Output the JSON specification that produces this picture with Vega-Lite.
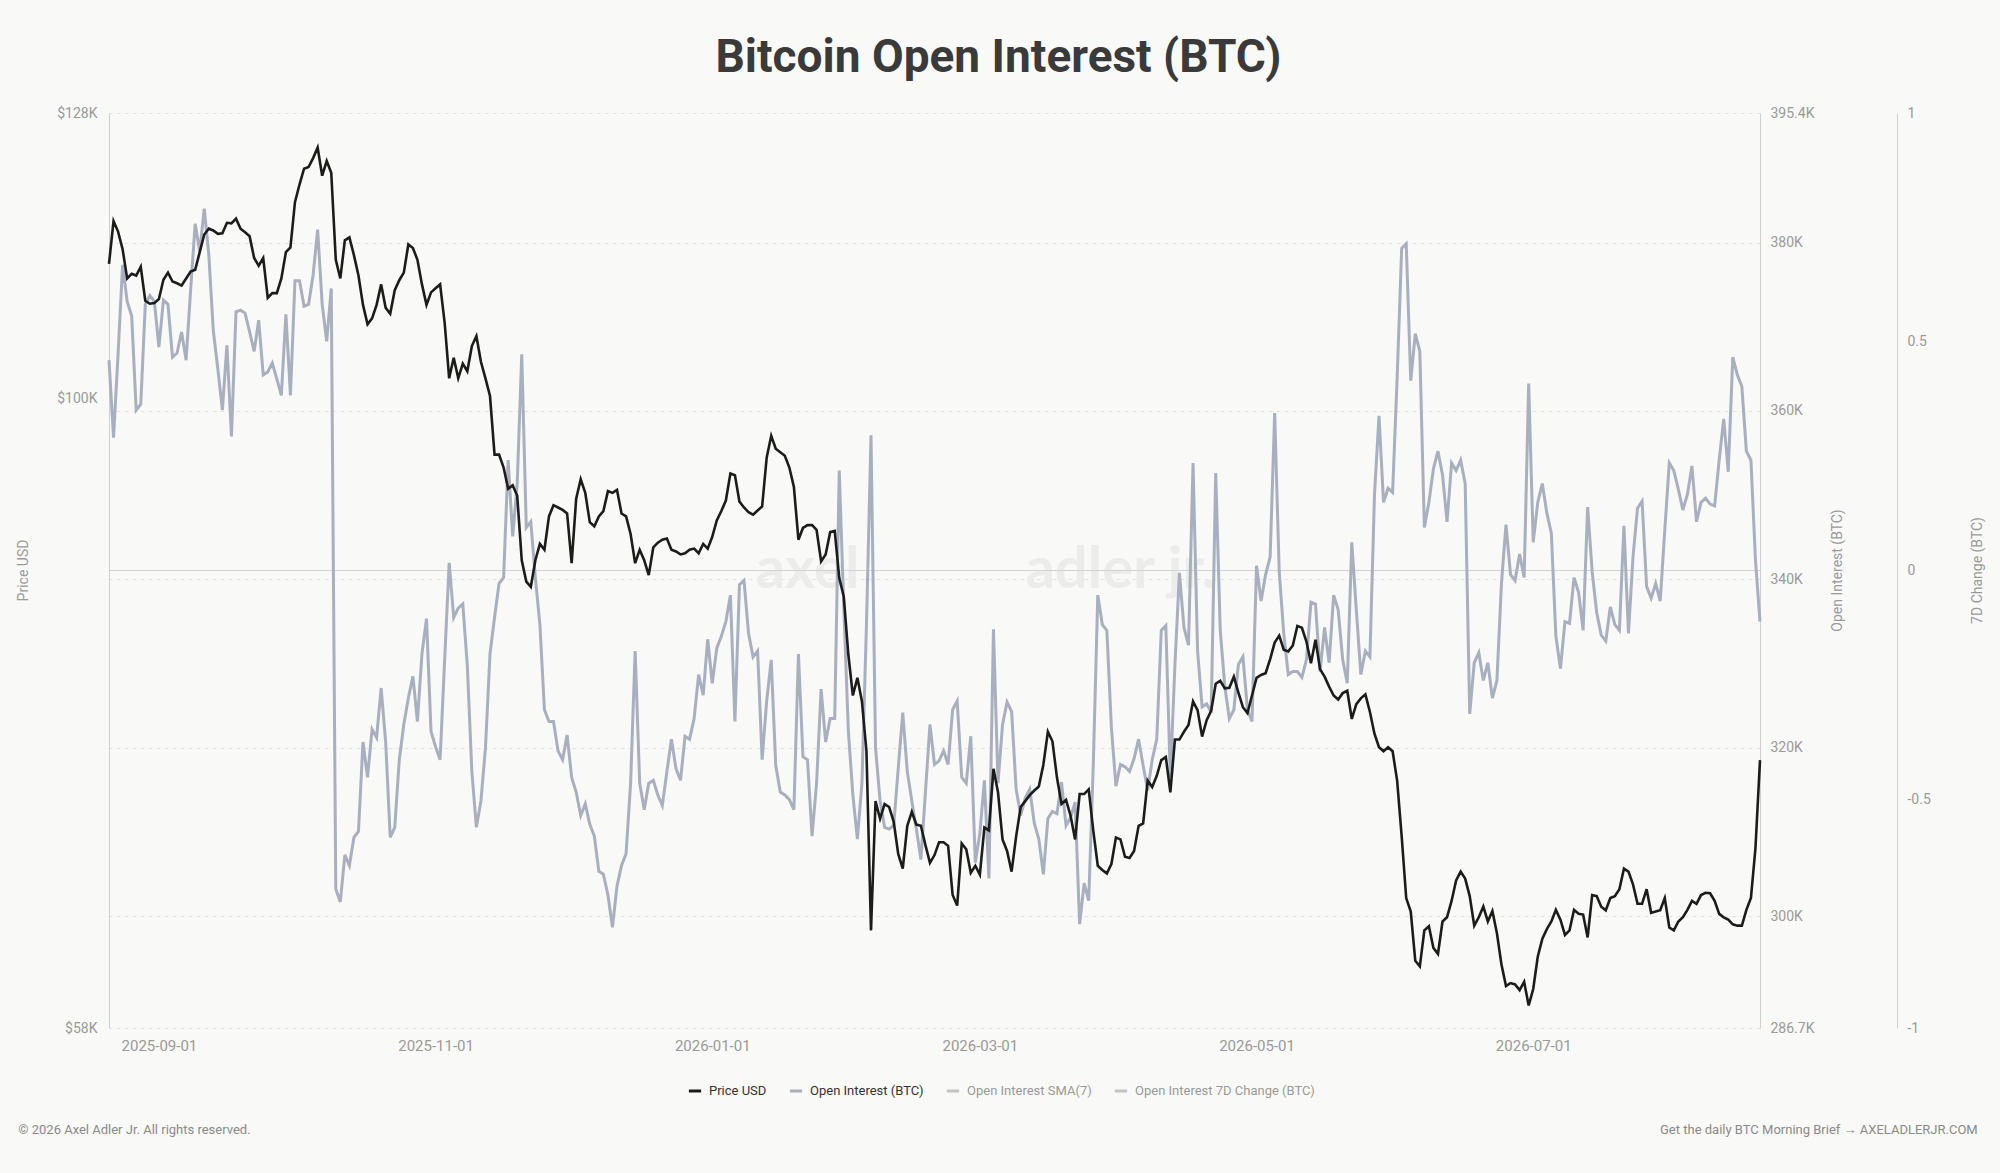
{
"$schema": "https://vega.github.io/schema/vega-lite/v6.json",
"width": 1651, "height": 915,
"autosize": {"type": "none"},
"padding": {"left": 109, "top": 113, "right": 240, "bottom": 145},
"background": "#f9f9f7",
"config": {"view": {"stroke": null}, "font": "Roboto"},
"title": {"text": "Bitcoin Open Interest (BTC)", "font": "Roboto", "fontSize": 46, "fontWeight": "bold", "color": "#3a3a3a", "anchor": "middle", "frame": "group", "dx": 64, "dy": 44, "offset": 32, "baseline": "alphabetic"},
"datasets": {"btc": [
{"date":"2025-08-21","price":112340,"oi":366040},
{"date":"2025-08-22","price":116580,"oi":356830},
{"date":"2025-08-23","price":115520,"oi":366740},
{"date":"2025-08-24","price":113770,"oi":377350},
{"date":"2025-08-25","price":110930,"oi":373020},
{"date":"2025-08-26","price":111380,"oi":371280},
{"date":"2025-08-27","price":111210,"oi":360110},
{"date":"2025-08-28","price":112060,"oi":360810},
{"date":"2025-08-29","price":108810,"oi":372670},
{"date":"2025-08-30","price":108530,"oi":373720},
{"date":"2025-08-31","price":108590,"oi":373020},
{"date":"2025-09-01","price":108980,"oi":367580},
{"date":"2025-09-02","price":110810,"oi":373160},
{"date":"2025-09-03","price":111490,"oi":372670},
{"date":"2025-09-04","price":110640,"oi":366390},
{"date":"2025-09-05","price":110470,"oi":366880},
{"date":"2025-09-06","price":110250,"oi":369390},
{"date":"2025-09-07","price":110930,"oi":366040},
{"date":"2025-09-08","price":111600,"oi":374420},
{"date":"2025-09-09","price":111770,"oi":382240},
{"date":"2025-09-10","price":113480,"oi":378960},
{"date":"2025-09-11","price":115230,"oi":384050},
{"date":"2025-09-12","price":115810,"oi":378610},
{"date":"2025-09-13","price":115630,"oi":369530},
{"date":"2025-09-14","price":115290,"oi":364990},
{"date":"2025-09-15","price":115340,"oi":360110},
{"date":"2025-09-16","price":116400,"oi":367790},
{"date":"2025-09-17","price":116340,"oi":356970},
{"date":"2025-09-18","price":116820,"oi":371770},
{"date":"2025-09-19","price":115810,"oi":371980},
{"date":"2025-09-20","price":115460,"oi":371630},
{"date":"2025-09-21","price":115050,"oi":369390},
{"date":"2025-09-22","price":112910,"oi":367090},
{"date":"2025-09-23","price":112170,"oi":370790},
{"date":"2025-09-24","price":112910,"oi":364300},
{"date":"2025-09-25","price":109090,"oi":364650},
{"date":"2025-09-26","price":109530,"oi":365690},
{"date":"2025-09-27","price":109530,"oi":363810},
{"date":"2025-09-28","price":110930,"oi":361850},
{"date":"2025-09-29","price":113480,"oi":371490},
{"date":"2025-09-30","price":113950,"oi":361850},
{"date":"2025-10-01","price":118490,"oi":375470},
{"date":"2025-10-02","price":120320,"oi":375470},
{"date":"2025-10-03","price":121980,"oi":372460},
{"date":"2025-10-04","price":122160,"oi":372670},
{"date":"2025-10-05","price":123100,"oi":376160},
{"date":"2025-10-06","price":124230,"oi":381540},
{"date":"2025-10-07","price":121240,"oi":372670},
{"date":"2025-10-08","price":122790,"oi":368280},
{"date":"2025-10-09","price":121550,"oi":374560},
{"date":"2025-10-10","price":112740,"oi":303210},
{"date":"2025-10-11","price":110930,"oi":301680},
{"date":"2025-10-12","price":114650,"oi":307260},
{"date":"2025-10-13","price":114940,"oi":306000},
{"date":"2025-10-14","price":113190,"oi":309360},
{"date":"2025-10-15","price":111210,"oi":310050},
{"date":"2025-10-16","price":108420,"oi":320670},
{"date":"2025-10-17","price":106620,"oi":316480},
{"date":"2025-10-18","price":107160,"oi":322200},
{"date":"2025-10-19","price":108420,"oi":321220},
{"date":"2025-10-20","price":110360,"oi":327090},
{"date":"2025-10-21","price":108140,"oi":320670},
{"date":"2025-10-22","price":107590,"oi":309360},
{"date":"2025-10-23","price":109810,"oi":310540},
{"date":"2025-10-24","price":110760,"oi":318570},
{"date":"2025-10-25","price":111490,"oi":322760},
{"date":"2025-10-26","price":114240,"oi":325900},
{"date":"2025-10-27","price":113890,"oi":328480},
{"date":"2025-10-28","price":112740,"oi":323110},
{"date":"2025-10-29","price":110360,"oi":331140},
{"date":"2025-10-30","price":108420,"oi":335330},
{"date":"2025-10-31","price":109600,"oi":321920},
{"date":"2025-11-01","price":110000,"oi":320110},
{"date":"2025-11-02","price":110360,"oi":318570},
{"date":"2025-11-03","price":106780,"oi":330440},
{"date":"2025-11-04","price":101750,"oi":341960},
{"date":"2025-11-05","price":103570,"oi":335470},
{"date":"2025-11-06","price":101750,"oi":336580},
{"date":"2025-11-07","price":103050,"oi":337070},
{"date":"2025-11-08","price":102370,"oi":329740},
{"date":"2025-11-09","price":104630,"oi":317170},
{"date":"2025-11-10","price":105540,"oi":310540},
{"date":"2025-11-11","price":103210,"oi":313680},
{"date":"2025-11-12","price":101750,"oi":319970},
{"date":"2025-11-13","price":100200,"oi":331140},
{"date":"2025-11-14","price":95250,"oi":335470},
{"date":"2025-11-15","price":95250,"oi":339510},
{"date":"2025-11-16","price":94190,"oi":340210},
{"date":"2025-11-17","price":92480,"oi":354170},
{"date":"2025-11-18","price":92760,"oi":345100},
{"date":"2025-11-19","price":91920,"oi":351380},
{"date":"2025-11-20","price":86930,"oi":366740},
{"date":"2025-11-21","price":85340,"oi":346150},
{"date":"2025-11-22","price":84960,"oi":346840},
{"date":"2025-11-23","price":86930,"oi":340210},
{"date":"2025-11-24","price":88170,"oi":334630},
{"date":"2025-11-25","price":87720,"oi":324510},
{"date":"2025-11-26","price":90290,"oi":323110},
{"date":"2025-11-27","price":91170,"oi":323110},
{"date":"2025-11-28","price":90990,"oi":319620},
{"date":"2025-11-29","price":90800,"oi":318570},
{"date":"2025-11-30","price":90520,"oi":321500},
{"date":"2025-12-01","price":86710,"oi":316480},
{"date":"2025-12-02","price":91680,"oi":314730},
{"date":"2025-12-03","price":93240,"oi":311940},
{"date":"2025-12-04","price":92150,"oi":313330},
{"date":"2025-12-05","price":89840,"oi":310890},
{"date":"2025-12-06","price":89520,"oi":309500},
{"date":"2025-12-07","price":90290,"oi":305310},
{"date":"2025-12-08","price":90710,"oi":304960},
{"date":"2025-12-09","price":92290,"oi":302510},
{"date":"2025-12-10","price":92150,"oi":298670},
{"date":"2025-12-11","price":92380,"oi":303560},
{"date":"2025-12-12","price":90520,"oi":306000},
{"date":"2025-12-13","price":90290,"oi":307400},
{"date":"2025-12-14","price":88930,"oi":315780},
{"date":"2025-12-15","price":86710,"oi":331490},
{"date":"2025-12-16","price":87720,"oi":315780},
{"date":"2025-12-17","price":86930,"oi":312640},
{"date":"2025-12-18","price":85820,"oi":315780},
{"date":"2025-12-19","price":87900,"oi":316130},
{"date":"2025-12-20","price":88260,"oi":314380},
{"date":"2025-12-21","price":88490,"oi":313130},
{"date":"2025-12-22","price":88580,"oi":317170},
{"date":"2025-12-23","price":87720,"oi":321010},
{"date":"2025-12-24","price":87590,"oi":317520},
{"date":"2025-12-25","price":87370,"oi":316130},
{"date":"2025-12-26","price":87460,"oi":321360},
{"date":"2025-12-27","price":87720,"oi":321010},
{"date":"2025-12-28","price":87810,"oi":323460},
{"date":"2025-12-29","price":87460,"oi":328690},
{"date":"2025-12-30","price":88170,"oi":326250},
{"date":"2025-12-31","price":87810,"oi":332880},
{"date":"2026-01-01","price":88710,"oi":327650},
{"date":"2026-01-02","price":89970,"oi":331830},
{"date":"2026-01-03","price":90710,"oi":333230},
{"date":"2026-01-04","price":91540,"oi":334980},
{"date":"2026-01-05","price":93710,"oi":338120},
{"date":"2026-01-06","price":93570,"oi":323110},
{"date":"2026-01-07","price":91450,"oi":339370},
{"date":"2026-01-08","price":90990,"oi":339860},
{"date":"2026-01-09","price":90620,"oi":333580},
{"date":"2026-01-10","price":90430,"oi":330790},
{"date":"2026-01-11","price":90750,"oi":331490},
{"date":"2026-01-12","price":91080,"oi":318570},
{"date":"2026-01-13","price":95000,"oi":325550},
{"date":"2026-01-14","price":96810,"oi":330440},
{"date":"2026-01-15","price":95740,"oi":317870},
{"date":"2026-01-16","price":95440,"oi":314730},
{"date":"2026-01-17","price":95150,"oi":314380},
{"date":"2026-01-18","price":94190,"oi":313820},
{"date":"2026-01-19","price":92620,"oi":312640},
{"date":"2026-01-20","price":88490,"oi":331140},
{"date":"2026-01-21","price":89390,"oi":318920},
{"date":"2026-01-22","price":89610,"oi":318570},
{"date":"2026-01-23","price":89610,"oi":309500},
{"date":"2026-01-24","price":89250,"oi":315780},
{"date":"2026-01-25","price":86840,"oi":326950},
{"date":"2026-01-26","price":87370,"oi":320670},
{"date":"2026-01-27","price":89070,"oi":323460},
{"date":"2026-01-28","price":89160,"oi":323460},
{"date":"2026-01-29","price":85600,"oi":352920},
{"date":"2026-01-30","price":84230,"oi":336720},
{"date":"2026-01-31","price":80140,"oi":322060},
{"date":"2026-02-01","price":77330,"oi":314380},
{"date":"2026-02-02","price":78520,"oi":309150},
{"date":"2026-02-03","price":76940,"oi":315780},
{"date":"2026-02-04","price":73690,"oi":334630},
{"date":"2026-02-05","price":63110,"oi":357110},
{"date":"2026-02-06","price":70580,"oi":319970},
{"date":"2026-02-07","price":69510,"oi":313680},
{"date":"2026-02-08","price":70400,"oi":310540},
{"date":"2026-02-09","price":70220,"oi":310330},
{"date":"2026-02-10","price":69340,"oi":310750},
{"date":"2026-02-11","price":67430,"oi":317520},
{"date":"2026-02-12","price":66570,"oi":324160},
{"date":"2026-02-13","price":69090,"oi":317170},
{"date":"2026-02-14","price":69930,"oi":313680},
{"date":"2026-02-15","price":69160,"oi":310330},
{"date":"2026-02-16","price":69090,"oi":306700},
{"date":"2026-02-17","price":67940,"oi":314730},
{"date":"2026-02-18","price":66910,"oi":322760},
{"date":"2026-02-19","price":67360,"oi":318010},
{"date":"2026-02-20","price":68110,"oi":318430},
{"date":"2026-02-21","price":68110,"oi":319620},
{"date":"2026-02-22","price":67900,"oi":318010},
{"date":"2026-02-23","price":65070,"oi":324510},
{"date":"2026-02-24","price":64480,"oi":325550},
{"date":"2026-02-25","price":68040,"oi":316480},
{"date":"2026-02-26","price":67700,"oi":315780},
{"date":"2026-02-27","price":66330,"oi":321360},
{"date":"2026-02-28","price":66740,"oi":306350},
{"date":"2026-03-01","price":66230,"oi":309850},
{"date":"2026-03-02","price":68990,"oi":316130},
{"date":"2026-03-03","price":68810,"oi":304470},
{"date":"2026-03-04","price":72580,"oi":334070},
{"date":"2026-03-05","price":71120,"oi":315780},
{"date":"2026-03-06","price":68280,"oi":322760},
{"date":"2026-03-07","price":67600,"oi":325410},
{"date":"2026-03-08","price":66400,"oi":324300},
{"date":"2026-03-09","price":68460,"oi":315080},
{"date":"2026-03-10","price":70220,"oi":311940},
{"date":"2026-03-11","price":70580,"oi":314030},
{"date":"2026-03-12","price":70940,"oi":315080},
{"date":"2026-03-13","price":71230,"oi":311030},
{"date":"2026-03-14","price":71480,"oi":309150},
{"date":"2026-03-15","price":72840,"oi":304960},
{"date":"2026-03-16","price":74940,"oi":311590},
{"date":"2026-03-17","price":74330,"oi":312430},
{"date":"2026-03-18","price":72030,"oi":312150},
{"date":"2026-03-19","price":70400,"oi":315920},
{"date":"2026-03-20","price":70650,"oi":310750},
{"date":"2026-03-21","price":69690,"oi":311730},
{"date":"2026-03-22","price":68280,"oi":313540},
{"date":"2026-03-23","price":71010,"oi":299030},
{"date":"2026-03-24","price":71010,"oi":303910},
{"date":"2026-03-25","price":71300,"oi":301820},
{"date":"2026-03-26","price":68810,"oi":317870},
{"date":"2026-03-27","price":66740,"oi":338120},
{"date":"2026-03-28","price":66500,"oi":334630},
{"date":"2026-03-29","price":66300,"oi":333930},
{"date":"2026-03-30","price":66840,"oi":322410},
{"date":"2026-03-31","price":68390,"oi":315430},
{"date":"2026-04-01","price":68280,"oi":318010},
{"date":"2026-04-02","price":67260,"oi":317730},
{"date":"2026-04-03","price":67190,"oi":317170},
{"date":"2026-04-04","price":67600,"oi":318710},
{"date":"2026-04-05","price":69090,"oi":321010},
{"date":"2026-04-06","price":69230,"oi":317870},
{"date":"2026-04-07","price":71840,"oi":314940},
{"date":"2026-04-08","price":71440,"oi":318570},
{"date":"2026-04-09","price":72140,"oi":321010},
{"date":"2026-04-10","price":73130,"oi":333930},
{"date":"2026-04-11","price":73320,"oi":334490},
{"date":"2026-04-12","price":71120,"oi":316480},
{"date":"2026-04-13","price":74440,"oi":329740},
{"date":"2026-04-14","price":74440,"oi":340770},
{"date":"2026-04-15","price":74940,"oi":334280},
{"date":"2026-04-16","price":75390,"oi":332180},
{"date":"2026-04-17","price":76940,"oi":353820},
{"date":"2026-04-18","price":76360,"oi":331490},
{"date":"2026-04-19","price":74630,"oi":324850},
{"date":"2026-04-20","price":75700,"oi":325200},
{"date":"2026-04-21","price":76320,"oi":324160},
{"date":"2026-04-22","price":78120,"oi":352640},
{"date":"2026-04-23","price":78320,"oi":333930},
{"date":"2026-04-24","price":77810,"oi":327300},
{"date":"2026-04-25","price":77850,"oi":323460},
{"date":"2026-04-26","price":78600,"oi":324510},
{"date":"2026-04-27","price":77530,"oi":329880},
{"date":"2026-04-28","price":76550,"oi":330790},
{"date":"2026-04-29","price":76160,"oi":324510},
{"date":"2026-04-30","price":77330,"oi":323110},
{"date":"2026-05-01","price":78520,"oi":341610},
{"date":"2026-05-02","price":78720,"oi":337420},
{"date":"2026-05-03","price":78840,"oi":340560},
{"date":"2026-05-04","price":79810,"oi":342660},
{"date":"2026-05-05","price":80950,"oi":359760},
{"date":"2026-05-06","price":81440,"oi":340910},
{"date":"2026-05-07","price":80460,"oi":333580},
{"date":"2026-05-08","price":80340,"oi":328690},
{"date":"2026-05-09","price":80750,"oi":329040},
{"date":"2026-05-10","price":82130,"oi":329040},
{"date":"2026-05-11","price":82000,"oi":328340},
{"date":"2026-05-12","price":81030,"oi":330440},
{"date":"2026-05-13","price":79520,"oi":337280},
{"date":"2026-05-14","price":81160,"oi":337070},
{"date":"2026-05-15","price":79120,"oi":329040},
{"date":"2026-05-16","price":78600,"oi":334280},
{"date":"2026-05-17","price":77930,"oi":330090},
{"date":"2026-05-18","price":77330,"oi":338120},
{"date":"2026-05-19","price":77060,"oi":336370},
{"date":"2026-05-20","price":77490,"oi":330440},
{"date":"2026-05-21","price":77650,"oi":327650},
{"date":"2026-05-22","price":75780,"oi":344400},
{"date":"2026-05-23","price":76750,"oi":336370},
{"date":"2026-05-24","price":77140,"oi":328690},
{"date":"2026-05-25","price":77410,"oi":331490},
{"date":"2026-05-26","price":76240,"oi":330790},
{"date":"2026-05-27","price":74820,"oi":349990},
{"date":"2026-05-28","price":73950,"oi":359410},
{"date":"2026-05-29","price":73690,"oi":349150},
{"date":"2026-05-30","price":73950,"oi":350820},
{"date":"2026-05-31","price":73690,"oi":350330},
{"date":"2026-06-01","price":71840,"oi":363950},
{"date":"2026-06-02","price":68460,"oi":379310},
{"date":"2026-06-03","price":64900,"oi":379860},
{"date":"2026-06-04","price":64150,"oi":363600},
{"date":"2026-06-05","price":61470,"oi":369180},
{"date":"2026-06-06","price":61180,"oi":367090},
{"date":"2026-06-07","price":63110,"oi":346150},
{"date":"2026-06-08","price":63340,"oi":349150},
{"date":"2026-06-09","price":62160,"oi":353130},
{"date":"2026-06-10","price":61840,"oi":355220},
{"date":"2026-06-11","price":63600,"oi":352430},
{"date":"2026-06-12","price":63830,"oi":346840},
{"date":"2026-06-13","price":64740,"oi":353820},
{"date":"2026-06-14","price":65900,"oi":352920},
{"date":"2026-06-15","price":66400,"oi":354170},
{"date":"2026-06-16","price":66000,"oi":351380},
{"date":"2026-06-17","price":65010,"oi":324020},
{"date":"2026-06-18","price":63370,"oi":330090},
{"date":"2026-06-19","price":63830,"oi":331280},
{"date":"2026-06-20","price":64420,"oi":327990},
{"date":"2026-06-21","price":63600,"oi":330090},
{"date":"2026-06-22","price":64180,"oi":325900},
{"date":"2026-06-23","price":62950,"oi":327990},
{"date":"2026-06-24","price":61280,"oi":339510},
{"date":"2026-06-25","price":60140,"oi":346490},
{"date":"2026-06-26","price":60300,"oi":340560},
{"date":"2026-06-27","price":60230,"oi":339860},
{"date":"2026-06-28","price":59930,"oi":343000},
{"date":"2026-06-29","price":60360,"oi":340210},
{"date":"2026-06-30","price":59140,"oi":363250},
{"date":"2026-07-01","price":59990,"oi":344400},
{"date":"2026-07-02","price":61690,"oi":349150},
{"date":"2026-07-03","price":62640,"oi":351380},
{"date":"2026-07-04","price":63180,"oi":347890},
{"date":"2026-07-05","price":63600,"oi":345450},
{"date":"2026-07-06","price":64240,"oi":333230},
{"date":"2026-07-07","price":63700,"oi":329390},
{"date":"2026-07-08","price":62860,"oi":334980},
{"date":"2026-07-09","price":63110,"oi":334770},
{"date":"2026-07-10","price":64240,"oi":340210},
{"date":"2026-07-11","price":64020,"oi":338470},
{"date":"2026-07-12","price":63980,"oi":333930},
{"date":"2026-07-13","price":62730,"oi":348590},
{"date":"2026-07-14","price":65070,"oi":340910},
{"date":"2026-07-15","price":65010,"oi":336020},
{"date":"2026-07-16","price":64420,"oi":333370},
{"date":"2026-07-17","price":64220,"oi":332670},
{"date":"2026-07-18","price":64900,"oi":336720},
{"date":"2026-07-19","price":65010,"oi":334630},
{"date":"2026-07-20","price":65400,"oi":333930},
{"date":"2026-07-21","price":66570,"oi":346360},
{"date":"2026-07-22","price":66400,"oi":333580},
{"date":"2026-07-23","price":65670,"oi":342660},
{"date":"2026-07-24","price":64580,"oi":348450},
{"date":"2026-07-25","price":64580,"oi":349290},
{"date":"2026-07-26","price":65400,"oi":339160},
{"date":"2026-07-27","price":64080,"oi":337770},
{"date":"2026-07-28","price":64150,"oi":339510},
{"date":"2026-07-29","price":64220,"oi":337420},
{"date":"2026-07-30","price":64900,"oi":345800},
{"date":"2026-07-31","price":63270,"oi":353820},
{"date":"2026-08-01","price":63110,"oi":352920},
{"date":"2026-08-02","price":63600,"oi":350680},
{"date":"2026-08-03","price":63830,"oi":348240},
{"date":"2026-08-04","price":64240,"oi":350120},
{"date":"2026-08-05","price":64740,"oi":353480},
{"date":"2026-08-06","price":64580,"oi":346840},
{"date":"2026-08-07","price":65070,"oi":349150},
{"date":"2026-08-08","price":65200,"oi":349640},
{"date":"2026-08-09","price":65170,"oi":348940},
{"date":"2026-08-10","price":64740,"oi":348730},
{"date":"2026-08-11","price":64020,"oi":354170},
{"date":"2026-08-12","price":63830,"oi":359060},
{"date":"2026-08-13","price":63700,"oi":352780},
{"date":"2026-08-14","price":63440,"oi":366390},
{"date":"2026-08-15","price":63370,"oi":364300},
{"date":"2026-08-16","price":63370,"oi":362900},
{"date":"2026-08-17","price":64240,"oi":355220},
{"date":"2026-08-18","price":64900,"oi":354170},
{"date":"2026-08-19","price":67770,"oi":342310},
{"date":"2026-08-20","price":73130,"oi":334980}
]},
"layer": [
{
"data": {"values": [{}]},
"mark": {"type": "text", "text": "axel", "font": "Lato", "fontWeight": "bold", "fontSize": 58, "color": "#ececea", "align": "center", "baseline": "middle"},
"encoding": {
"x": {"datum": {"year": 2026, "month": 1, "date": 22, "utc": true}, "type": "temporal"},
"y": {"datum": 0, "type": "quantitative", "scale": {"domain": [-1, 1], "nice": false}, "axis": null}
}
},
{
"data": {"values": [{}]},
"mark": {"type": "text", "text": "adler jr.", "font": "Lato", "fontWeight": "bold", "fontSize": 58, "color": "#ececea", "align": "center", "baseline": "middle"},
"encoding": {
"x": {"datum": {"year": 2026, "month": 4, "date": 1, "utc": true}, "type": "temporal"},
"y": {"datum": 0, "type": "quantitative", "scale": {"domain": [-1, 1], "nice": false}, "axis": null}
}
},
{
"data": {"values": [{}]},
"mark": {"type": "rule", "color": "#d2d2d2", "strokeWidth": 1},
"encoding": {
"y": {"datum": 0, "type": "quantitative", "scale": {"domain": [-1, 1], "nice": false, "zero": false},
"axis": {"orient": "right", "offset": 137, "values": [-1, -0.5, 0, 0.5, 1], "labelExpr": "'' + datum.value", "grid": false, "domain": true, "domainColor": "#d0d0d0", "ticks": false, "labelPadding": 10, "labelColor": "#9a9a9a", "labelFontSize": 14, "title": "7D Change (BTC)", "titleColor": "#9a9a9a", "titleFontSize": 14, "titleFontWeight": "normal", "titleAngle": 270, "titleX": 80, "titleY": 457, "titleAlign": "center", "titleBaseline": "middle"}}
}
},
{
"data": {"name": "btc"},
"mark": {"type": "line", "strokeWidth": 3},
"encoding": {
"x": {"field": "date", "type": "temporal", "scale": {"domain": [{"year": 2025, "month": 8, "date": 21, "utc": true}, {"year": 2026, "month": 8, "date": 20, "utc": true}]},
"axis": {"title": null, "format": "%Y-%m-%d", "tickCount": {"interval": "month", "step": 2}, "labelFontSize": 15, "labelColor": "#9a9a9a", "labelPadding": 10, "domain": false, "ticks": false, "grid": false, "labelFlush": false}},
"y": {"field": "oi", "type": "quantitative", "scale": {"domain": [286700, 395400], "nice": false, "zero": false},
"axis": {"orient": "right", "values": [286700, 300000, 320000, 340000, 360000, 380000, 395400], "labelExpr": "format(datum.value/1000, '.1~f') + 'K'", "grid": true, "gridDash": [4, 4], "gridColor": "#e4e4e4", "domain": true, "domainColor": "#d0d0d0", "ticks": false, "labelPadding": 10, "labelColor": "#9a9a9a", "labelFontSize": 14, "title": "Open Interest (BTC)", "titleColor": "#9a9a9a", "titleFontSize": 14, "titleFontWeight": "normal", "titleAngle": 270, "titleX": 77, "titleY": 457, "titleAlign": "center", "titleBaseline": "middle"}},
"color": {"datum": "Open Interest (BTC)", "type": "nominal"}
}
},
{
"data": {"name": "btc"},
"mark": {"type": "line", "strokeWidth": 2.6},
"encoding": {
"x": {"field": "date", "type": "temporal"},
"y": {"field": "price", "type": "quantitative", "scale": {"type": "log", "domain": [58000, 128000], "nice": false, "zero": false},
"axis": {"orient": "left", "values": [58000, 100000, 128000], "labelExpr": "'$' + format(datum.value/1000, 'd') + 'K'", "grid": false, "domain": true, "domainColor": "#d0d0d0", "ticks": false, "labelPadding": 12, "labelColor": "#9a9a9a", "labelFontSize": 14, "title": "Price USD", "titleColor": "#9a9a9a", "titleFontSize": 14, "titleFontWeight": "normal", "titleAngle": 270, "titleX": -86, "titleY": 457, "titleAlign": "center", "titleBaseline": "middle"}},
"color": {"datum": "Price USD", "type": "nominal",
"scale": {"domain": ["Price USD", "Open Interest (BTC)", "Open Interest SMA(7)", "Open Interest 7D Change (BTC)"], "range": ["#1c1c1c", "#a9afbf", "#c4c4c4", "#c4c4c4"]},
"legend": {"orient": "none", "legendX": 578, "legendY": 970, "direction": "horizontal", "title": null, "symbolType": "stroke", "symbolStrokeWidth": 3, "symbolSize": 150, "labelFontSize": 13, "labelColor": "#333333", "labelOffset": 6, "labelLimit": 400, "columnPadding": 16,
"encode": {"labels": {"update": {"fill": {"signal": "datum.label === 'Price USD' || datum.label === 'Open Interest (BTC)' ? '#333333' : '#9a9a9a'"}}}}}}
}
},
{
"data": {"values": [{}]},
"mark": {"type": "text", "text": "© 2026 Axel Adler Jr. All rights reserved.", "fontSize": 13, "color": "#8a8a8a", "align": "left", "baseline": "middle"},
"encoding": {
"x": {"datum": {"year": 2025, "month": 8, "date": 1, "utc": true}, "type": "temporal"},
"y": {"datum": -1.222, "type": "quantitative", "scale": {"domain": [-1, 1], "nice": false}, "axis": null}
}
},
{
"data": {"values": [{}]},
"mark": {"type": "text", "text": "Get the daily BTC Morning Brief → AXELADLERJR.COM", "fontSize": 13, "color": "#8a8a8a", "align": "right", "baseline": "middle"},
"encoding": {
"x": {"datum": {"year": 2026, "month": 10, "date": 7, "utc": true}, "type": "temporal"},
"y": {"datum": -1.222, "type": "quantitative", "scale": {"domain": [-1, 1], "nice": false}, "axis": null}
}
}
],
"resolve": {"scale": {"y": "independent"}}
}
